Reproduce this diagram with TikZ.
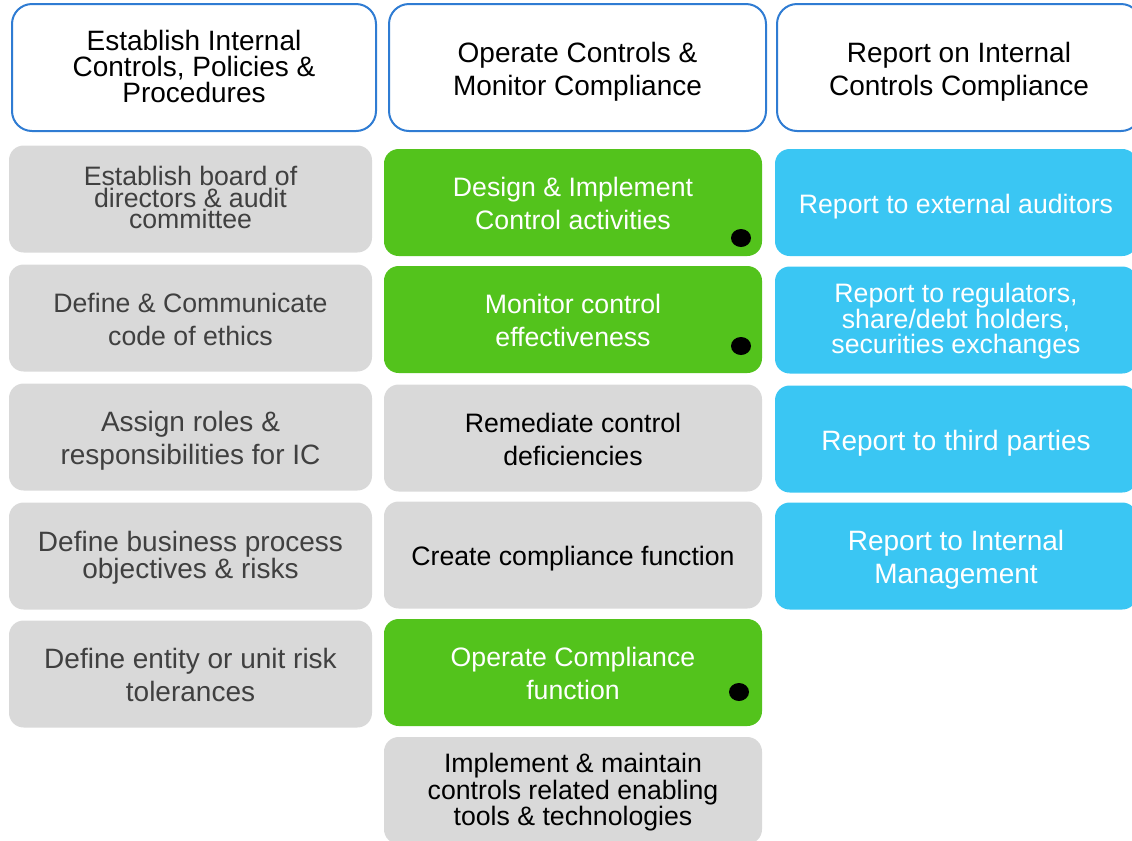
\documentclass[tikz,border=0pt]{standalone}
\usepackage{fontspec}
\setmainfont{Liberation Sans}
\usepackage{xcolor}
\usetikzlibrary{positioning, shapes.geometric}
\definecolor{boxgray}{HTML}{D9D9D9}
\definecolor{boxgreen}{HTML}{53C31C}
\definecolor{boxblue}{HTML}{3AC6F3}
\definecolor{headblue}{HTML}{2F7CD3}
\definecolor{textgray}{HTML}{404040}
\tikzset{
    txt/.style = {execute at begin node={\rule{0pt}{1.05em}},
                  execute at end node={\rule[-#1]{0pt}{#1}}},
    txt/.default = 0.25em,
    box/.style = {rectangle, rounded corners=11pt, minimum height=80.25pt, txt,
                  text width=250pt, align=flush center, inner sep=2pt,
                  font=\fontsize{20}{24.5}\selectfont},
    head/.style = {box, rounded corners=15pt, draw=headblue, line width=1.5pt, fill=white,
                   minimum height=95.25pt, font=\fontsize{21}{24.75}\selectfont},
    setbox/.style = {box, fill=boxgray, text=textgray, minimum width=272.25pt},
    opgray/.style = {box, fill=boxgray, text=black, minimum width=283.5pt},
    opgreen/.style = {box, fill=boxgreen, text=white, minimum width=283.5pt},
    repbox/.style = {box, fill=boxblue, text=white, minimum width=271.5pt},
    dot/.style = {ellipse, fill=black, inner sep=0, minimum width=15pt, minimum height=13.5pt}
    }

\begin{document}
\begin{tikzpicture}[x=0.75pt, y=-0.75pt]
    \useasboundingbox (0,0) rectangle (1132,840);

    % column heads
    \node[head, minimum width=273pt, txt=0.44em, font=\fontsize{21}{19.5}\selectfont] (h1) at (194,67.5)
        {Establish Internal\\Controls, Policies \&\\Procedures};
    \node[head, minimum width=282.75pt] (h2) at (577.5,67.5)
        {Operate Controls \&\\Monitor Compliance};
    \node[head, minimum width=273pt] (h3) at (959,67.5)
        {Report on Internal\\Controls Compliance};

    % establish
    \node[setbox, txt=0.44em, font=\fontsize{20}{16}\selectfont] (e1) at (190.5,199)
        {Establish board of\\directors \& audit\\committee};
    \node[setbox] (e2) at (190.5,318) {Define \& Communicate\\code of ethics};
    \node[setbox, font=\fontsize{21}{24.5}\selectfont] (e3) at (190.5,437)
        {Assign roles \&\\responsibilities for IC};
    \node[setbox, txt=0.44em, font=\fontsize{21}{20.25}\selectfont] (e4) at (190.5,556)
        {Define business process\\objectives \& risks};
    \node[setbox, font=\fontsize{21}{24.5}\selectfont] (e5) at (190.5,674)
        {Define entity or unit risk\\tolerances};

    % operate
    \node[opgreen] (o1) at (573,202.5) {Design \& Implement\\Control activities};
    \node[opgreen] (o2) at (573,319.5) {Monitor control\\effectiveness};
    \node[opgray] (o3) at (573,438) {Remediate control\\deficiencies};
    \node[opgray] (o4) at (573,555) {Create compliance function};
    \node[opgreen] (o5) at (573,672.5) {Operate Compliance\\function};
    \node[opgray, txt=0.4em, font=\fontsize{20}{19.9}\selectfont] (o6) at (573,790.5)
        {Implement \& maintain\\controls related enabling\\tools \& technologies};

    \node[dot] (d1) at (741,238) {};
    \node[dot] (d2) at (741,346) {};
    \node[dot] (d3) at (739,692) {};

    % report
    \node[repbox] (r1) at (956,202.5) {Report to external auditors};
    \node[repbox, txt=0.44em, font=\fontsize{20}{18.4}\selectfont] (r2) at (956,320)
        {Report to regulators,\\share/debt holders,\\securities exchanges};
    \node[repbox, font=\fontsize{21}{24.5}\selectfont] (r3) at (956,439) {Report to third parties};
    \node[repbox, font=\fontsize{21}{24.5}\selectfont] (r4) at (956,556)
        {Report to Internal\\Management};
\end{tikzpicture}
\end{document}
